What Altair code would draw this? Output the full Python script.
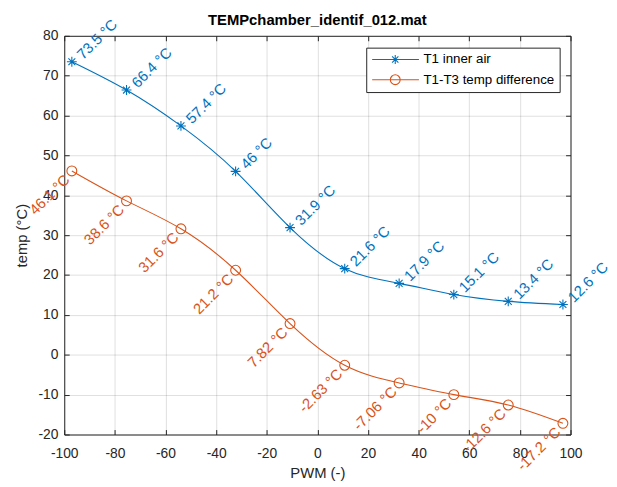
import altair as alt
import pandas as pd

# ---- data ----
pwm = [-97, -75.4, -53.9, -32.3, -10.8, 10.8, 32.3, 53.9, 75.4, 97]
t1_inner_air = [73.5, 66.4, 57.4, 46, 31.9, 21.6, 17.9, 15.1, 13.4, 12.6]
t1_t3_difference = [46.1, 38.6, 31.6, 21.2, 7.82, -2.63, -7.06, -10, -12.6, -17.2]
series_names = ["T1 inner air", "T1-T3 temp difference"]
series_colors = ["#0072BD", "#D95319"]
x_ticks = [-100, -80, -60, -40, -20, 0, 20, 40, 60, 80, 100]
y_ticks = [-20, -10, 0, 10, 20, 30, 40, 50, 60, 70, 80]
title_text = "TEMPchamber_identif_012.mat"

rows = []
for name, vals in zip(series_names, [t1_inner_air, t1_t3_difference]):
    for p, v in zip(pwm, vals):
        rows.append({"pwm": p, "temp": v, "series": name, "label": f"{v:.3g} °C"})
df = pd.DataFrame(rows)

FONT = "Liberation Sans"
AXC = "#262626"

ASTERISK = "M-1,0H1M0,-1V1M-0.7,-0.7L0.7,0.7M-0.7,0.7L0.7,-0.7"
LEG_AST = ("M-1,0H6.9M2.15,0H3.65M2.9,-0.75V0.75"
           "M2.37,-0.53L3.43,0.53M2.37,0.53L3.43,-0.53")
LEG_CIRC = "M-1,0H6.9M3.73,0A0.83,0.83 0 1,1 2.07,0A0.83,0.83 0 1,1 3.73,0"

is_t1 = alt.datum.series == series_names[0]
col_val = alt.condition(is_t1, alt.value(series_colors[0]), alt.value(series_colors[1]))

xs = alt.Scale(domain=[-100, 100], nice=False, zero=False)
ys = alt.Scale(domain=[-20, 80], nice=False, zero=False)

x_main = alt.X(
    "pwm:Q", scale=xs,
    axis=alt.Axis(values=x_ticks, title="PWM (-)", labelExpr="datum.value + ''",
                  labelFlush=False, domain=False, offset=-5, tickSize=5,
                  labelPadding=12, titlePadding=6, grid=True),
)
y_main = alt.Y(
    "temp:Q", scale=ys,
    axis=alt.Axis(values=y_ticks, title="temp (°C)", labelExpr="datum.value + ''",
                  labelFlush=False, domain=False, offset=-5, tickSize=5,
                  labelPadding=6.5, titlePadding=9, grid=True),
)

base = alt.Chart(df)

lines = base.mark_line(interpolate="natural", strokeWidth=1.1).encode(
    x=x_main, y=y_main, color=col_val, detail="series:N"
)
points = base.mark_point(filled=False, size=100, strokeWidth=1.1, opacity=1).encode(
    x=x_main, y=y_main, color=col_val,
    shape=alt.condition(is_t1, alt.value(ASTERISK), alt.value("circle")),
)
labels_blue = base.transform_filter(is_t1).mark_text(
    align="left", baseline="middle", angle=315, dx=9, dy=2,
    font=FONT, fontSize=15, color=series_colors[0],
).encode(x=x_main, y=y_main, text="label:N")
labels_orange = base.transform_filter(~is_t1).mark_text(
    align="right", baseline="middle", angle=315, dx=-8, dy=1,
    font=FONT, fontSize=15, color=series_colors[1],
).encode(x=x_main, y=y_main, text="label:N")

inner = alt.layer(lines, points, labels_blue, labels_orange)

# box-side ticks (top/right) and the legend
box_layer = base.mark_point(filled=False, strokeWidth=1.1, opacity=0).encode(
    x=alt.X("pwm:Q", scale=xs,
            axis=alt.Axis(orient="top", values=x_ticks, labels=False, title=None,
                          domain=False, grid=False, offset=-5, tickSize=5)),
    y=alt.Y("temp:Q", scale=ys,
            axis=alt.Axis(orient="right", values=y_ticks, labels=False, title=None,
                          domain=False, grid=False, offset=-5, tickSize=5)),
    color=alt.Color("series:N", scale=alt.Scale(domain=series_names, range=series_colors),
                    legend=alt.Legend(title=None, orient="top-right", offset=11.5)),
    shape=alt.Shape("series:N",
                    scale=alt.Scale(domain=series_names, range=[LEG_AST, LEG_CIRC]),
                    legend=alt.Legend(title=None, orient="top-right", offset=11.5)),
)

chart = (
    alt.layer(inner, box_layer)
    .resolve_scale(x="independent", y="independent")
    .properties(
        width=513, height=404,
        autosize=alt.AutoSizeParams(type="none"),
        padding={"left": 57, "top": 25, "right": 39, "bottom": 50},
        title=alt.Title(title_text, anchor="middle", frame="group", offset=-11,
                        font=FONT, fontSize=15, fontWeight="bold", color="black"),
    )
    .configure_view(stroke=AXC, strokeWidth=1)
    .configure_axis(
        labelFont=FONT, labelFontSize=14, labelColor=AXC,
        titleFont=FONT, titleFontSize=15, titleFontWeight="normal", titleColor=AXC,
        gridColor=AXC, gridOpacity=0.15, gridWidth=1, tickColor=AXC, tickWidth=1,
    )
    .configure_legend(
        labelFont=FONT, labelFontSize=13.5, labelColor="black",
        strokeColor=AXC, fillColor="white", padding=5, cornerRadius=0,
        symbolSize=144, symbolStrokeWidth=1.1, labelOffset=39, rowPadding=5.5,
        symbolFillColor="transparent", symbolOpacity=1, labelLimit=300,
    )
)

chart.save("out.html", embed_options={"renderer": "svg", "actions": False})
